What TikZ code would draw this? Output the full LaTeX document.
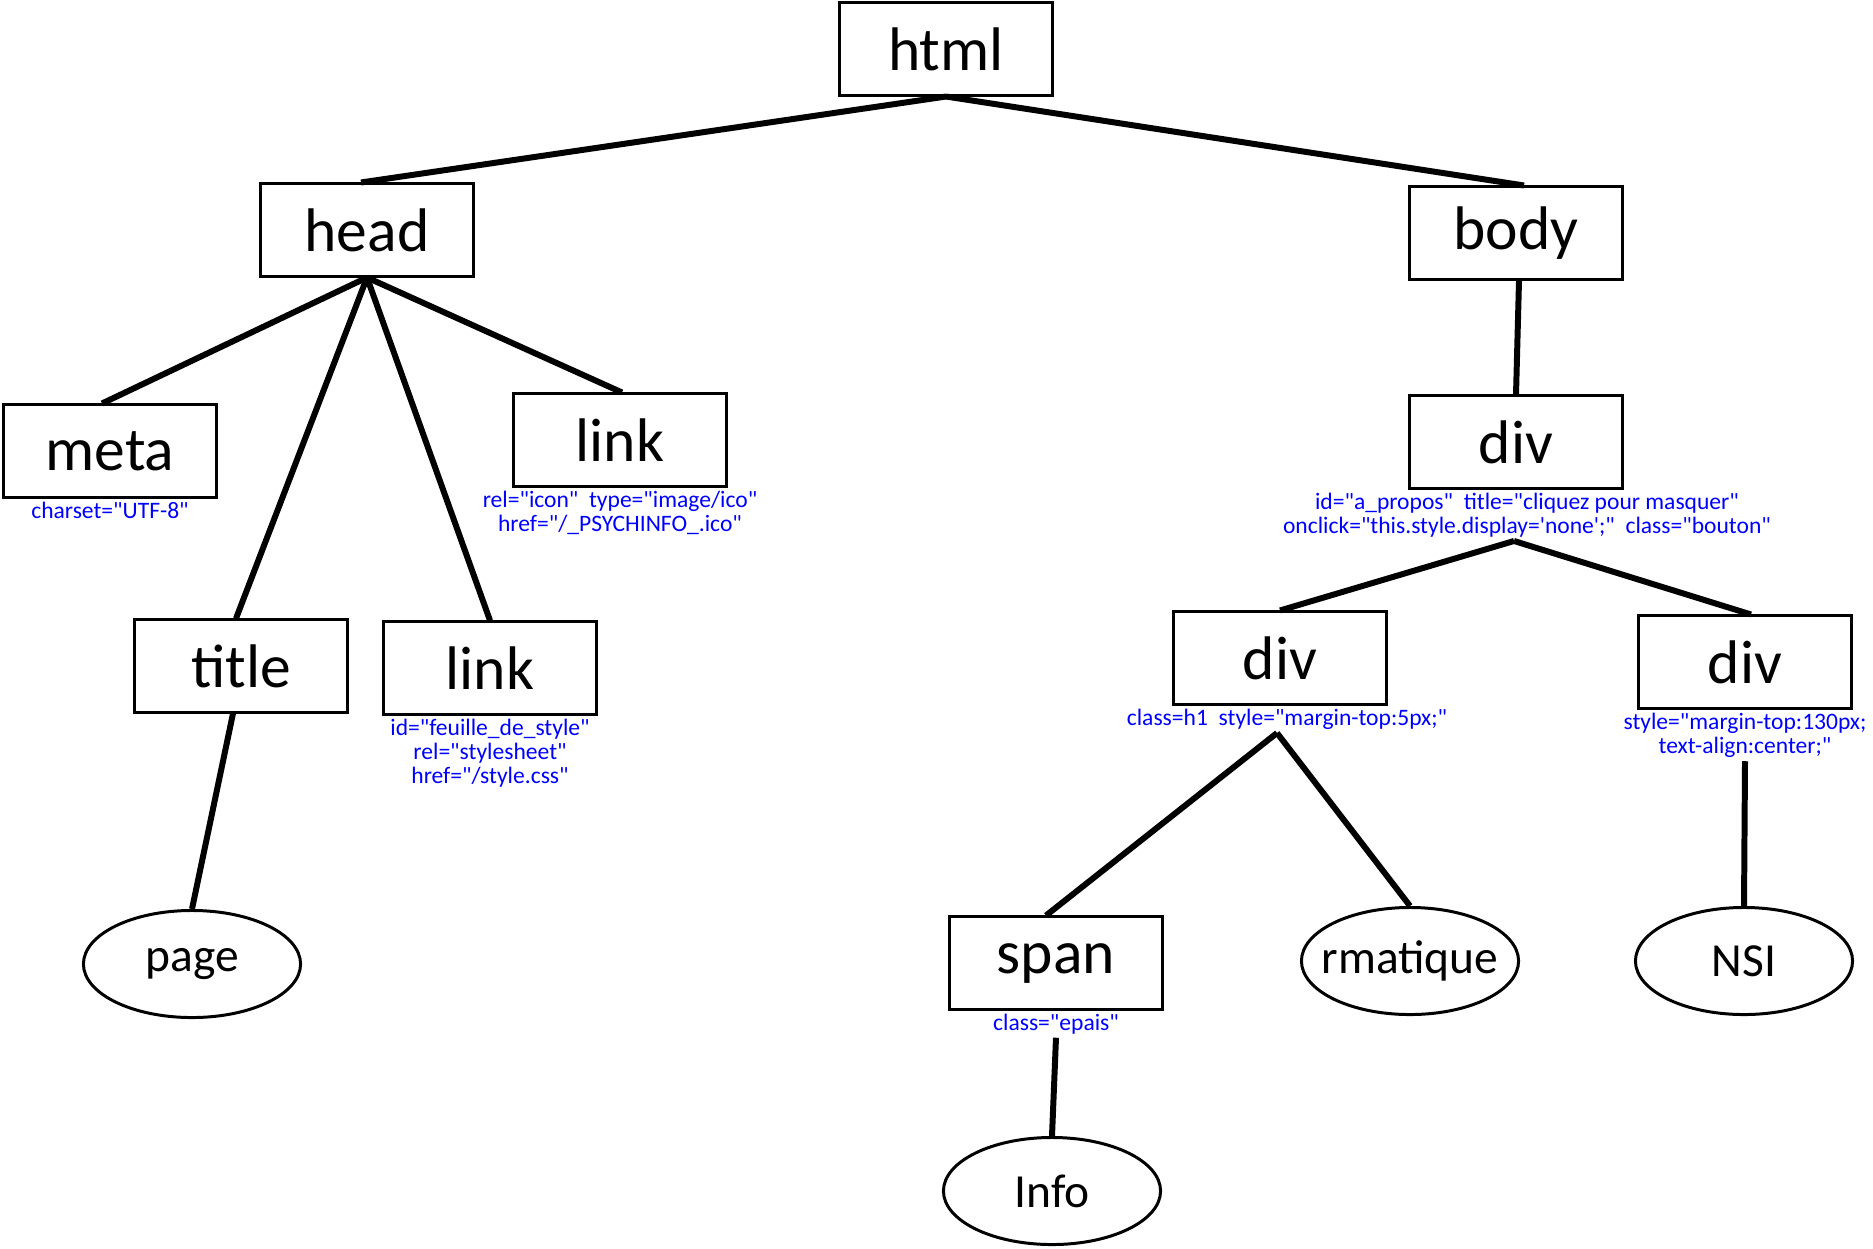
\documentclass[tikz,border=0pt]{standalone}
\usepackage{fontspec}
\setmainfont{Carlito}
\newfontfamily\calib{Carlito}
\usetikzlibrary{positioning,shapes.geometric}
\tikzset{
  tag/.style={draw,line width=0.85pt,minimum width=2.13cm,minimum height=0.92cm,inner sep=0pt,font=\calib\fontsize{17.5}{20}\selectfont},
  txt/.style={ellipse,draw,line width=0.85pt,minimum width=2.17cm,minimum height=1.07cm,inner xsep=-0.25cm,inner ysep=0pt,font=\calib\fontsize{13.5}{16}\selectfont},
  attr/.style={text=blue,align=center,inner sep=0.8pt,font=\calib\fontsize{6.7}{6.9}\selectfont},
  branch/.style={line width=1.7pt}
}
\begin{document}
\begin{tikzpicture}[x=0.01cm,y=-0.01cm]
\useasboundingbox (0,0) rectangle (1873,1248);
% element boxes
\node[tag] (html) at (946,49) {html};
\node[tag] (head) at (367,230) {head};
\node[tag] (body) at (1516,233) {body};
\node[tag] (meta) at (110,451) {meta};
\node[tag] (icon) at (620,440) {link};
\node[tag] (title) at (241,666) {title};
\node[tag] (css) at (490,668) {link};
\node[tag] (propos) at (1516,442) {div};
\node[tag] (h1) at (1280,658) {div};
\node[tag] (centre) at (1745,662) {div};
\node[tag] (span) at (1056,963) {span};
% text leaves
\node[txt] (page) at (192,964) {page};
\node[txt] (rmat) at (1410,961) {rmatique};
\node[txt] (nsi) at (1744,961) {NSI};
\node[txt] (info) at (1052,1191) {Info};
% attributes
\node[attr,below=0pt of meta] (metaA) {charset="UTF-8"};
\node[attr,below=0pt of icon] (iconA) {rel="icon"\ \ type="image/ico"\\href="/\_PSYCHINFO\_.ico"};
\node[attr,below=0pt of css] (cssA) {id="feuille\_de\_style"\\rel="stylesheet"\\href="/style.css"};
\node[attr,below=0pt of propos,xshift=0.11cm] (proposA) {id="a\_propos"\ \ title="cliquez pour masquer"\\onclick="this.style.display='none';"\ \ class="bouton"};
\node[attr,below=0pt of h1,xshift=0.07cm] (h1A) {class=h1\ \ style="margin-top:5px;"};
\node[attr,below=0pt of centre] (centreA) {style="margin-top:130px;\\text-align:center;"};
\node[attr,below=0pt of span] (spanA) {class="epais"};
% tree
\draw[branch] (html.south) -- ([xshift=-0.06cm]head.north);
\draw[branch] (html.south) -- ([xshift=0.08cm]body.north);
\draw[branch] (head.south) -- ([xshift=-0.08cm]meta.north);
\draw[branch] (head.south) -- ([xshift=-0.05cm]title.north);
\draw[branch] (head.south) -- (css.north);
\draw[branch] (head.south) -- ([xshift=0.02cm]icon.north);
\draw[branch] ([xshift=-0.08cm]title.south) -- (page.north);
\draw[branch] ([xshift=0.03cm]body.south) -- (propos.north);
\draw[branch] ([xshift=-0.13cm]proposA.south) -- (h1.north);
\draw[branch] ([xshift=-0.13cm]proposA.south) -- ([xshift=0.06cm]centre.north);
\draw[branch] ([xshift=-0.1cm]h1A.south) -- ([xshift=-0.1cm]span.north);
\draw[branch] ([xshift=-0.1cm]h1A.south) -- (rmat.north);
\draw[branch] (centreA.south) -- (nsi.north);
\draw[branch] (spanA.south) -- (info.north);
\end{tikzpicture}
\end{document}
